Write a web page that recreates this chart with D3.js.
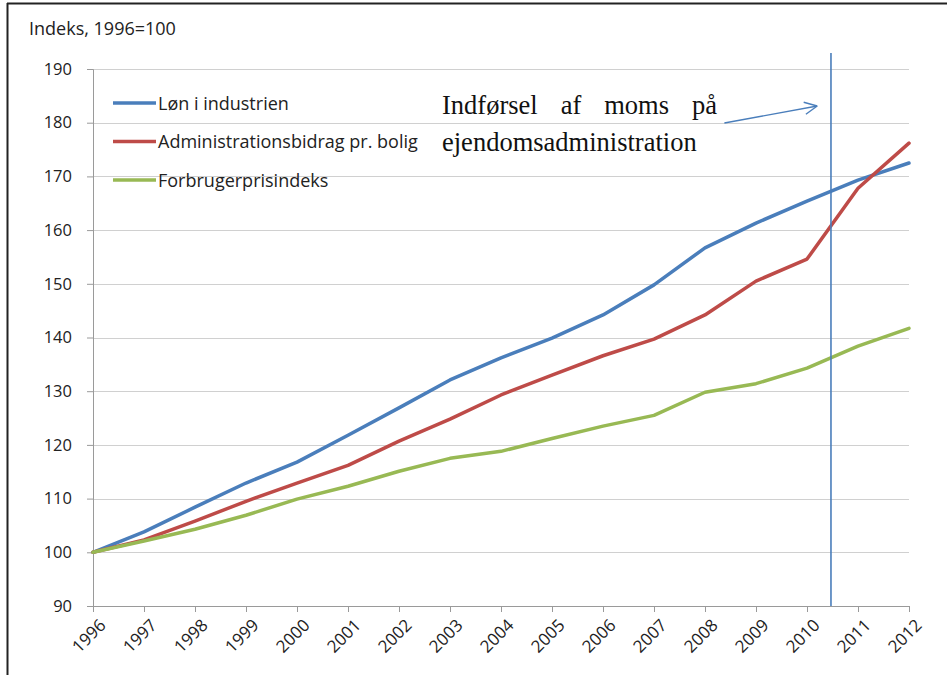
<!DOCTYPE html>
<html><head><meta charset="utf-8">
<script src="https://cdn.jsdelivr.net/npm/d3@7"></script>
<style>body{margin:0;background:#fff}svg{display:block}</style>
</head><body><svg id="c" width="947" height="675"></svg>
<script>
const years = [1996,1997,1998,1999,2000,2001,2002,2003,2004,2005,2006,2007,2008,2009,2010,2011,2012];
const lon = [100,103.8,108.4,112.9,116.8,121.8,126.9,132.1,136.2,139.9,144.2,149.8,156.7,161.3,165.4,169.3,172.5];
const admin = [100,102.3,105.8,109.5,112.9,116.2,120.7,124.8,129.3,133.0,136.6,139.7,144.2,150.5,154.6,167.8,176.2];
const kpi = [100,102.1,104.3,106.9,109.9,112.3,115.1,117.5,118.8,121.2,123.5,125.5,129.8,131.4,134.3,138.4,141.7];
const seriesNames = ["Løn i industrien","Administrationsbidrag pr. bolig","Forbrugerprisindeks"];
const seriesColors = ["#4a7ebb","#be4b48","#98b954"];
const yTicks = [90,100,110,120,130,140,150,160,170,180,190];
const vatYear = 2010.47;
const annotationLines = [["Indførsel","af","moms","på"],["ejendomsadministration"]];

const svg = d3.select("#c");
const font = "'Open Sans', Lato, sans-serif";
const x = d3.scaleLinear().domain([1996,2012]).range([93,909]);
const y = d3.scaleLinear().domain([90,190]).range([606,69]);

// frame
svg.append("line").attr("x1",7.5).attr("x2",7.5).attr("y1",3).attr("y2",675).attr("stroke","#222").attr("stroke-width",2);
svg.append("line").attr("x1",7).attr("x2",947).attr("y1",3.5).attr("y2",3.5).attr("stroke","#222").attr("stroke-width",2);

// title
svg.append("text").attr("x",29).attr("y",35).attr("font-family",font).attr("font-size",18).attr("fill","#222").text("Indeks, 1996=100");

// gridlines
svg.append("g").selectAll("line").data(yTicks.filter(d=>d>90)).join("line")
  .attr("x1",x(1996)).attr("x2",x(2012)).attr("y1",d=>Math.round(y(d))+0.5).attr("y2",d=>Math.round(y(d))+0.5)
  .attr("stroke","#d0d0d0").attr("stroke-width",1.2);

// y axis
const yAxis = svg.append("g").attr("transform",`translate(${x(1996)},0)`)
  .call(d3.axisLeft(y).tickValues(yTicks).tickSize(6).tickPadding(15));
yAxis.selectAll("text").attr("font-family",font).attr("font-size",16.5).attr("fill","#222");
yAxis.selectAll("line,path").attr("stroke","#9a9a9a");

// x axis
const xAxis = svg.append("g").attr("transform",`translate(0,${y(90)})`)
  .call(d3.axisBottom(x).tickValues(years).tickFormat(d3.format("d")).tickSize(6).tickSizeOuter(0));
xAxis.selectAll("line,path").attr("stroke","#9a9a9a");
xAxis.selectAll("text").attr("font-family",font).attr("font-size",17).attr("fill","#222")
  .attr("text-anchor","end").attr("dy",0).attr("transform","translate(7,14) rotate(-45)");

// lines
const seriesData = [lon, admin, kpi];
const line = d3.line().x((d,i)=>x(years[i])).y(d=>y(d));
svg.append("g").selectAll("path").data(seriesData).join("path")
  .attr("d",line).attr("fill","none").attr("stroke",(d,i)=>seriesColors[i])
  .attr("stroke-width",3.5).attr("stroke-linejoin","round").attr("stroke-linecap","round");

// vertical line
svg.append("line").attr("x1",x(vatYear)).attr("x2",x(vatYear)).attr("y1",53).attr("y2",y(90))
  .attr("stroke","#4a7ebb").attr("stroke-width",1.6);

// legend
const lg = svg.append("g");
seriesNames.forEach((n,i)=>{
  const yy = 103 + i*38.5;
  lg.append("line").attr("x1",113).attr("x2",156).attr("y1",yy).attr("y2",yy).attr("stroke",seriesColors[i]).attr("stroke-width",3.5);
  lg.append("text").attr("x",158).attr("y",yy+6.5).attr("font-family",font).attr("font-size",18).attr("fill","#222").text(n);
});

// annotation text (justified first line)
const serif = "'Liberation Serif','Times New Roman',serif";
const left = 442, right = 717;
const ag = svg.append("g");
annotationLines.forEach((words,li)=>{
  const by = 114 + li*37;
  const nodes = words.map(w=>ag.append("text").attr("y",by).attr("font-family",serif).attr("font-size",26.5).attr("fill","#111").text(w));
  if (words.length===1) { nodes[0].attr("x",left); return; }
  const widths = nodes.map(n=>n.node().getComputedTextLength());
  const gap = (right-left-d3.sum(widths))/(words.length-1);
  let cx = left;
  nodes.forEach((n,k)=>{ n.attr("x",cx); cx += widths[k]+gap; });
});

// arrow
const ax1 = x(2008.38), ay1 = 123, ax2 = x(2010.2), ay2 = 106;
svg.append("line").attr("x1",ax1).attr("y1",ay1).attr("x2",ax2).attr("y2",ay2).attr("stroke","#4a7ebb").attr("stroke-width",1.4);
const ang = Math.atan2(ay2-ay1, ax2-ax1), hl = 14;
[0.45,-0.45].forEach(a=>{
  svg.append("line").attr("x1",ax2).attr("y1",ay2)
    .attr("x2",ax2-hl*Math.cos(ang+a)).attr("y2",ay2-hl*Math.sin(ang+a))
    .attr("stroke","#4a7ebb").attr("stroke-width",1.4);
});
</script></body></html>
